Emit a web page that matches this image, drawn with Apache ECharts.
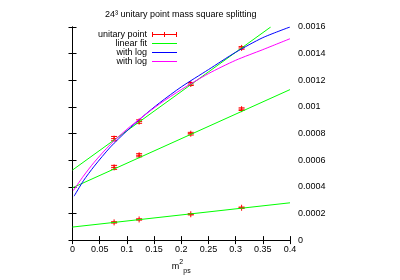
<!DOCTYPE html>
<html>
<head>
<meta charset="utf-8">
<script src="https://cdn.jsdelivr.net/npm/echarts@6/dist/echarts.min.js"></script>
<style>
html,body{margin:0;padding:0;background:#fff;}
#chart{width:400px;height:280px;}
</style>
</head>
<body>
<div id="chart"></div>
<script>
// ---- data ----
const titleText = '24\u00B3 unitary point mass square splitting';
const xTickLabels = ['0', '0.05', '0.1', '0.15', '0.2', '0.25', '0.3', '0.35', '0.4'];
const yTickLabels = ['0', '0.0002', '0.0004', '0.0006', '0.0008', '0.001', '0.0012', '0.0014', '0.0016'];

const pointX = [0.0765, 0.1225, 0.2175, 0.311];
const upperY = [0.000762, 0.00089, 0.001172, 0.001443];
const upperErr = [0.000016, 0.000013, 0.000011, 0.00001];
const middleY = [0.000546, 0.000637, 0.000799, 0.000983];
const middleErr = [0.000015, 0.000012, 0.00001, 0.00001];
const lowerY = [0.000133, 0.000155, 0.000194, 0.000243];
const lowerErr = [0.000005, 0.000005, 0.000005, 0.000005];

const fitLowX = [0, 0.4];
const fitLowY = [0.000098, 0.00028];
const fitMidX = [0, 0.4];
const fitMidY = [0.000393, 0.00113];
const fitUpX = [0, 0.3645];
const fitUpY = [0.000526, 0.0016];

const logBlueX = [0.003, 0.02, 0.04, 0.07, 0.1, 0.13, 0.16, 0.2, 0.25, 0.3, 0.35, 0.4];
const logBlueY = [0.00033, 0.000445, 0.000555, 0.0007, 0.00082, 0.00093, 0.00103, 0.00115, 0.00128, 0.00141, 0.00152, 0.0016];
const logMagX = [0.0015, 0.02, 0.04, 0.07, 0.1, 0.13, 0.16, 0.2, 0.25, 0.3, 0.35, 0.4];
const logMagY = [0.000372, 0.00048, 0.000585, 0.00072, 0.000832, 0.00093, 0.001022, 0.00113, 0.00125, 0.00135, 0.00143, 0.001512];

// ---- build ----
const FONT = '"Liberation Sans", Arial, Helvetica, sans-serif';
const zip = (xs, ys) => xs.map((x, i) => [x, ys[i]]);
const errData = [];
[[upperY, upperErr], [middleY, middleErr], [lowerY, lowerErr]].forEach(([ys, es]) => {
  pointX.forEach((x, i) => errData.push([x, ys[i], es[i]]));
});

const chart = echarts.init(document.getElementById('chart'), null, {renderer: 'canvas'});

function renderErr(params, api) {
  const x = api.value(0), y = api.value(1), e = api.value(2);
  const p = api.coord([x, y]);
  const hi = api.coord([x, y + e]);
  const lo = api.coord([x, y - e]);
  const cw = 3, m = 3;
  const st = {stroke: '#ff0000', lineWidth: 1};
  return {
    type: 'group',
    children: [
      {type: 'line', shape: {x1: p[0], y1: hi[1], x2: p[0], y2: lo[1]}, style: st},
      {type: 'line', shape: {x1: p[0] - cw, y1: hi[1], x2: p[0] + cw, y2: hi[1]}, style: st},
      {type: 'line', shape: {x1: p[0] - cw, y1: lo[1], x2: p[0] + cw, y2: lo[1]}, style: st},
      {type: 'line', shape: {x1: p[0] - m, y1: p[1], x2: p[0] + m, y2: p[1]}, style: st},
      {type: 'line', shape: {x1: p[0], y1: p[1] - m, x2: p[0], y2: p[1] + m}, style: st}
    ]
  };
}

const axisLine = {show: true, lineStyle: {color: '#000', width: 1}};
const tickIn = {show: true, inside: true, length: 4, lineStyle: {color: '#000', width: 1}};

const lineSeries = (name, color, xs, ys, smooth) => ({
  type: 'line', name, data: zip(xs, ys), showSymbol: false, symbol: 'none',
  smooth: smooth ? 0.25 : false,
  lineStyle: {color, width: 1}, itemStyle: {color}, clip: true, animation: false, z: 3
});

// icon paths span the full 25x7 box so they are not rescaled
const lineIcon = 'path://M0,0h0.01v0.01h-0.01z M0,3h25v1h-25z M24.99,6.99h0.01v0.01h-0.01z';
const errIcon = 'path://M0,1h1v5h-1z M0,3h25v1h-25z M24,1h1v5h-1z M12,1h1v5h-1z M0,0h0.01v0.01h-0.01z M24.99,6.99h0.01v0.01h-0.01z';
const legendItem = (name, icon, color) => ({
  name, icon,
  itemStyle: {color, opacity: 1, borderWidth: 0, borderColor: 'transparent'},
  lineStyle: {width: 0, opacity: 0}
});

chart.setOption({
  animation: false,
  backgroundColor: '#fff',
  textStyle: {fontFamily: FONT},
  title: {
    text: titleText, left: 105, top: 10, padding: 0,
    textStyle: {fontSize: 9, fontWeight: 'normal', color: '#000', fontFamily: FONT}
  },
  grid: {left: 72.5, right: 110, top: 27, bottom: 36, containLabel: false},
  legend: {
    orient: 'vertical', align: 'right', right: 223, top: 30, padding: 0, itemGap: 0,
    itemWidth: 25, itemHeight: 7,
    textStyle: {fontSize: 9, lineHeight: 9, color: '#000', fontFamily: FONT},
    formatter: n => n.trim(),
    data: [
      legendItem('unitary point', errIcon, '#ff0000'),
      legendItem('linear fit', lineIcon, '#00ff00'),
      legendItem('with log', lineIcon, '#0000ff'),
      legendItem('with log ', lineIcon, '#ff00ff')
    ]
  },
  xAxis: [
    {
      type: 'value', position: 'bottom', min: 0, max: 0.4, interval: 0.05,
      axisLine, axisTick: tickIn, splitLine: {show: false},
      axisLabel: {fontSize: 9, color: '#000', margin: 5, fontFamily: FONT,
        formatter: (v, i) => xTickLabels[i] !== undefined ? xTickLabels[i] : String(+v.toFixed(2))},
      name: '{m|m}{s|2}{p|ps}', nameLocation: 'middle', nameGap: 16,
      nameTextStyle: {
        rich: {
          m: {fontSize: 9, lineHeight: 16, color: '#000', fontFamily: FONT, verticalAlign: 'middle'},
          s: {fontSize: 7, color: '#000', fontFamily: FONT, verticalAlign: 'top'},
          p: {fontSize: 7, color: '#000', fontFamily: FONT, verticalAlign: 'bottom'}
        }
      }
    },
    {
      type: 'value', position: 'top', min: 0, max: 0.4, interval: 0.05,
      axisLine, axisTick: tickIn, axisLabel: {show: false}, splitLine: {show: false}
    }
  ],
  yAxis: [
    {
      type: 'value', position: 'right', min: 0, max: 0.0016, interval: 0.0002,
      axisLine, axisTick: tickIn, splitLine: {show: false},
      axisLabel: {fontSize: 9, color: '#000', margin: 8, fontFamily: FONT,
        formatter: (v, i) => yTickLabels[i] !== undefined ? yTickLabels[i] : String(+v.toFixed(4))}
    },
    {
      type: 'value', position: 'left', min: 0, max: 0.0016, interval: 0.0002,
      axisLine, axisTick: tickIn, axisLabel: {show: false}, splitLine: {show: false}
    }
  ],
  series: [
    {
      type: 'custom', name: 'unitary point', renderItem: renderErr, data: errData,
      encode: {x: 0, y: 1}, itemStyle: {color: '#ff0000'}, z: 2, clip: true
    },
    lineSeries('linear fit', '#00ff00', fitLowX, fitLowY, false),
    lineSeries('linear fit', '#00ff00', fitMidX, fitMidY, false),
    lineSeries('linear fit', '#00ff00', fitUpX, fitUpY, false),
    lineSeries('with log', '#0000ff', logBlueX, logBlueY, true),
    lineSeries('with log ', '#ff00ff', logMagX, logMagY, true)
  ]
});
</script>
</body>
</html>
